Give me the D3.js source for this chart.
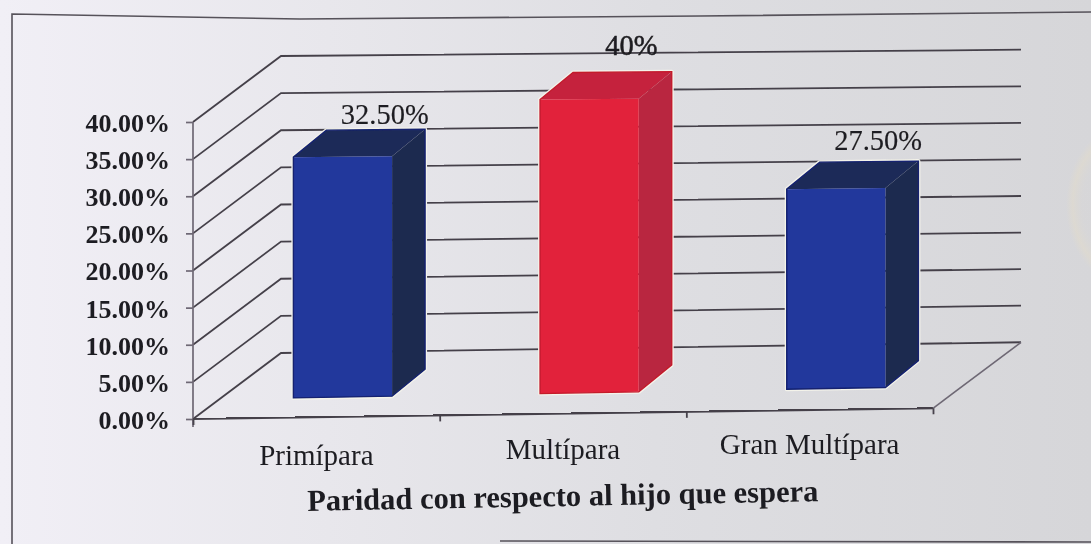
<!DOCTYPE html>
<html lang="es">
<head>
<meta charset="utf-8">
<script src="https://cdn.jsdelivr.net/npm/d3@7"></script>
<style>
html,body{margin:0;padding:0;background:#dcdce0;overflow:hidden}
svg{display:block}
text{font-family:"Liberation Serif",serif;fill:#1d1c20}
</style>
</head>
<body>
<svg id="c" width="1091" height="544"></svg>
<script>
const categories = ["Primípara", "Multípara", "Gran Multípara"];
const values = [32.5, 40, 27.5];
const valueLabels = ["32.50%", "40%", "27.50%"];
const barKinds = ["blue", "red", "blue"];
const yTicks = [0, 5, 10, 15, 20, 25, 30, 35, 40];
const axisTitle = "Paridad con respecto al hijo que espera";

const W = 1091, H = 544;
const svg = d3.select("#c");
const defs = svg.append("defs");

const bg = defs.append("linearGradient").attr("id", "bg");
[[0, "#f1eff6"], [.3, "#e8e7ec"], [.6, "#dedee2"], [1, "#d6d6d9"]].forEach(s =>
  bg.append("stop").attr("offset", s[0]).attr("stop-color", s[1]));
const stain = defs.append("radialGradient").attr("id", "stain");
[[0, "#d9d8d6", 0], [.7, "#ddd9d0", .1], [.88, "#e6ddc6", .4], [1, "#e6ddc6", 0]].forEach(s =>
  stain.append("stop").attr("offset", s[0]).attr("stop-color", s[1]).attr("stop-opacity", s[2]));
defs.append("filter").attr("id", "soft").append("feGaussianBlur").attr("stdDeviation", .5);

svg.append("rect").attr("width", W).attr("height", H).attr("fill", "url(#bg)");
svg.append("ellipse").attr("cx", 1122).attr("cy", 205).attr("rx", 56).attr("ry", 78).attr("fill", "url(#stain)");

const g = svg.append("g").attr("filter", "url(#soft)");

// layout of the pseudo-3D box
const originX = 193, originY = 419;
const x = d3.scaleLinear().domain([0, 3]).range([originX, 933]);
const yFront = d3.scaleLinear().domain([0, 40]).range([originY, 122]);
const depthX = 88, depthY = 66;
const floorTilt = 0.0145, topTilt = 0.0085, barFloorTilt = 0.0175;
const tilt = d3.scaleLinear().domain([0, 40]).range([floorTilt, topTilt]);

function P(cat, val, d, baseTilt) {
  const px = x(cat);
  const t = val === 0 && baseTilt ? baseTilt : tilt(val);
  return [px + depthX * d, yFront(val) - t * (px - originX) - depthY * d];
}
const line = d3.line();

// frame of the printed figure
const frame = [[12, 546], [12, 14], [300, 19], [700, 16], [1091, 12]];
svg.insert("path", "g").attr("d", line(frame)).attr("fill", "none").attr("stroke", "#56525a").attr("stroke-width", 1.6);
svg.insert("path", "g").attr("d", line([[500, 541], [1091, 542]])).attr("fill", "none").attr("stroke", "#56525a").attr("stroke-width", 1.6);

// gridlines: side wall and back wall
const gridCol = "#45414a";
yTicks.forEach(v => {
  g.append("path")
    .attr("d", line([P(0, v, 0), P(0, v, 1), P(3, v, 1)]))
    .attr("fill", "none").attr("stroke", gridCol).attr("stroke-width", 1.8);
});
// floor edge on the right
g.append("path").attr("d", line([P(3, 0, 0), P(3, 0, 1)]))
  .attr("fill", "none").attr("stroke", "#6e6874").attr("stroke-width", 1.6);

// axes
const yAxis = d3.axisLeft(yFront).tickValues(yTicks).tickSize(7).tickPadding(16)
  .tickFormat(d => d3.format(".2f")(d) + "%");
const yG = g.append("g").attr("transform", `translate(${originX},0)`).call(yAxis);
yG.selectAll("path,line").attr("stroke", "#6e6874").attr("stroke-width", 1.7);
yG.select(".domain").attr("d", `M0,${yFront(40)}V${originY + 8}`);
yG.selectAll("text").style("font-family", '"Liberation Serif",serif')
  .style("font-size", "26px").style("font-weight", "700").attr("fill", "#1d1c20").attr("dy", "0.36em");

const xLen = x.range()[1] - originX;
const angle = Math.atan2(-floorTilt * xLen, xLen) * 180 / Math.PI;
const xAxis = d3.axisBottom(d3.scaleLinear().domain(x.domain()).range([0, xLen]))
  .tickValues([0, 1, 2, 3]).tickSize(6).tickFormat("");
const xG = g.append("g").attr("transform", `translate(${originX},${originY}) rotate(${angle})`).call(xAxis);
xG.selectAll("path,line").attr("stroke", "#45414a").attr("stroke-width", 1.8);
xG.select(".domain").attr("d", `M0,0H${xLen}`);

// bars
const band = 0.4, gap = 0.3, barD = 0.3, barDX = 33, barDY = 27;
const palette = {
  blue: {front: "#24389c", top: "#1f2c58", side: "#1f2c50", edge: "#12206f"},
  red: {front: "#e2223a", top: "#c5223e", side: "#b9283f", edge: "#c31a2c"}
};
values.forEach((v, i) => {
  const c = palette[barKinds[i]];
  const bl = P(i + gap, 0, barD, barFloorTilt), br = P(i + gap + band, 0, barD, barFloorTilt);
  const tl = P(i + gap, v, barD), tr = P(i + gap + band, v, barD);
  const off = p => [p[0] + barDX, p[1] - barDY];
  const outline = [bl, tl, off(tl), off(tr), off(br), br];
  g.append("path").attr("d", line(outline) + "Z").attr("fill", "none")
    .attr("stroke", "#f4f3ea").attr("stroke-width", 4).attr("stroke-linejoin", "round");
  g.append("path").attr("d", line([tl, off(tl), off(tr), tr]) + "Z").attr("fill", c.top);
  g.append("path").attr("d", line([tr, off(tr), off(br), br]) + "Z").attr("fill", c.side);
  g.append("path").attr("d", line([bl, tl, tr, br]) + "Z").attr("fill", c.front);
  g.append("path").attr("d", line(outline) + "Z").attr("fill", "none")
    .attr("stroke", c.edge).attr("stroke-width", 1.4);
});

// value labels
const labelNudgeY = [6, 17, 12];
values.forEach((v, i) => {
  const p = P(i + gap + band / 2, v, barD);
  g.append("text").attr("x", p[0] + barDX + 9).attr("y", p[1] - barDY - labelNudgeY[i])
    .attr("text-anchor", "middle").attr("font-size", 28.5)
    .attr("stroke", "#1d1c20").attr("stroke-width", i === 1 ? .5 : .15)
    .text(valueLabels[i]);
});

// category labels, following the slant of the page
const catDrop = [48, 45, 44];
categories.forEach((c, i) => {
  const cx = x(i + .5);
  g.append("text").attr("x", cx).attr("y", originY - floorTilt * (cx - originX) + catDrop[i])
    .attr("text-anchor", "middle").attr("font-size", 29).attr("textLength", null).text(c);
});

// axis title
g.append("text").attr("transform", "translate(563,506) rotate(-1.1)")
  .attr("text-anchor", "middle").attr("font-size", 30.5).attr("font-weight", 700).text(axisTitle);
</script>
</body>
</html>
